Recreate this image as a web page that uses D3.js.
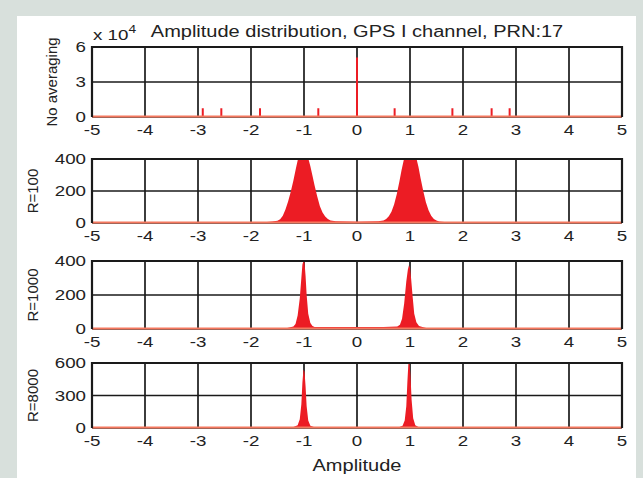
<!DOCTYPE html>
<html lang="en">
  <head>
    <meta charset="UTF-8" />
    <title>Amplitude distribution</title>
    <script src="https://d3js.org/d3.v7.min.js"></script>
    <style>
      body { margin: 0; background: #d8e0dc; }
      text { font-family: "Liberation Sans", Arial, sans-serif; fill: #222; }
    </style>
  </head>
  <body>
    <div id="chart"></div>
    <script>
      // data
      var xTicks = [-5, -4, -3, -2, -1, 0, 1, 2, 3, 4, 5];
      var panelLabels = ["No averaging", "R=100", "R=1000", "R=8000"];
      var yTickSets = [[0, 3, 6], [0, 200, 400], [0, 200, 400], [0, 300, 600]];

      // no averaging: single spikes (x 10^4)
      var spikeAmp = [-2.91, -2.56, -1.83, -0.73, 0, 0.71, 1.8, 2.54, 2.88];
      var spikeCount = [0.75, 0.75, 0.75, 0.75, 5.1, 0.75, 0.75, 0.75, 0.75];

      // R=100
      var r100Amp = [-1.9, -1.8, -1.7, -1.6, -1.5, -1.45, -1.4, -1.35, -1.3, -1.25, -1.2, -1.15, -1.11,
        -0.92, -0.88, -0.84, -0.8, -0.75, -0.7, -0.65, -0.6, -0.55, -0.5, -0.4, -0.2, 0, 0.2, 0.4, 0.5,
        0.55, 0.6, 0.65, 0.7, 0.75, 0.8, 0.84, 0.89, 1.12, 1.16, 1.2, 1.25, 1.3, 1.35, 1.4, 1.45, 1.5,
        1.55, 1.6, 1.7, 1.8, 1.9];
      var r100Count = [0, 3, 6, 9, 14, 24, 45, 85, 135, 195, 265, 345, 405,
        405, 355, 295, 235, 165, 105, 65, 40, 25, 16, 11, 9, 8, 9, 11, 16,
        25, 42, 70, 115, 180, 260, 330, 405, 405, 350, 280, 200, 130, 80, 45, 25, 15,
        10, 8, 5, 2, 0];

      // R=1000
      var r1000Amp = [-1.38, -1.3, -1.2, -1.16, -1.12, -1.08, -1.05, -1.03, -1.01, -0.99, -0.97, -0.95,
        -0.92, -0.88, -0.84, -0.8, -0.5, 0, 0.5, 0.76, 0.81, 0.85, 0.89, 0.93, 0.96, 0.98, 1.0, 1.02,
        1.05, 1.08, 1.12, 1.17, 1.25, 1.38];
      var r1000Count = [0, 8, 14, 30, 80, 180, 300, 380, 400, 390, 310, 200,
        90, 35, 18, 12, 12, 12, 12, 14, 25, 60, 150, 280, 350, 375, 360, 300,
        190, 90, 40, 18, 10, 0];

      // R=8000
      var r8000Amp = [-1.32, -1.2, -1.12, -1.08, -1.05, -1.03, -1.01, -0.99, -0.97, -0.95, -0.92, -0.88,
        -0.8, -0.4, 0, 0.4, 0.8, 0.86, 0.9, 0.93, 0.95, 0.97, 0.99, 1.01, 1.03, 1.06, 1.1, 1.16, 1.28];
      var r8000Count = [0, 10, 25, 80, 220, 420, 540, 520, 380, 200, 70, 20,
        8, 7, 7, 7, 9, 20, 70, 200, 420, 600, 610, 480, 260, 90, 25, 10, 0];

      var width = 643, height = 478;
      var left = 92, right = 622;
      var panelTops = [47, 159, 261, 363];
      var panelBottoms = [117, 223, 329, 428];
      var red = "#ec1c24", baseRed = "#f5785f";
      var stretch = 1.25; // the picture's text is wider than plain Arial

      var svg = d3.select("#chart").append("svg")
        .attr("width", width).attr("height", height);

      svg.append("rect").attr("width", width).attr("height", height).attr("fill", "#d8e0dc");
      svg.append("rect").attr("x", 17).attr("y", 16).attr("width", 619).attr("height", 462).attr("fill", "#fff");

      var x = d3.scaleLinear().domain([-5, 5]).range([left, right]);

      var series = [
        null,
        { amp: r100Amp, count: r100Count },
        { amp: r1000Amp, count: r1000Count },
        { amp: r8000Amp, count: r8000Count }
      ];

      function wideText(parent, px, py, anchor, size) {
        return parent.append("text")
          .attr("transform", "translate(" + px + "," + py + ") scale(" + stretch + ",1)")
          .attr("text-anchor", anchor)
          .style("font-size", size + "px");
      }

      panelLabels.forEach(function (label, i) {
        var ticks = yTickSets[i];
        var y = d3.scaleLinear().domain([0, ticks[2]]).range([panelBottoms[i], panelTops[i]]);
        var g = svg.append("g");

        g.append("clipPath").attr("id", "clip" + i).append("rect")
          .attr("x", left).attr("y", panelTops[i])
          .attr("width", right - left).attr("height", panelBottoms[i] - panelTops[i]);

        // grid
        g.selectAll(".vg").data(xTicks).enter().append("line")
          .attr("x1", function (d) { return x(d); }).attr("x2", function (d) { return x(d); })
          .attr("y1", panelTops[i]).attr("y2", panelBottoms[i])
          .attr("stroke", "#1a1a1a").attr("stroke-width", 1.7);
        g.selectAll(".hg").data(ticks).enter().append("line")
          .attr("x1", left).attr("x2", right)
          .attr("y1", function (d) { return y(d); }).attr("y2", function (d) { return y(d); })
          .attr("stroke", "#1a1a1a").attr("stroke-width", 1.7);

        var plot = g.append("g").attr("clip-path", "url(#clip" + i + ")");

        if (i === 0) {
          plot.selectAll(".spike").data(spikeAmp).enter().append("line")
            .attr("x1", function (d) { return x(d); }).attr("x2", function (d) { return x(d); })
            .attr("y1", y(0)).attr("y2", function (d, j) { return y(spikeCount[j]); })
            .attr("stroke", red).attr("stroke-width", 2);
        } else {
          var s = series[i];
          var pts = s.amp.map(function (a, j) { return [a, s.count[j]]; });
          var area = d3.area()
            .x(function (d) { return x(d[0]); })
            .y0(y(0))
            .y1(function (d) { return y(d[1]); });
          plot.append("path").datum(pts).attr("d", area).attr("fill", red);
        }

        // zero line
        g.append("line").attr("x1", left).attr("x2", right)
          .attr("y1", y(0) - 0.5).attr("y2", y(0) - 0.5)
          .attr("stroke", baseRed).attr("stroke-width", 2);

        // box
        g.append("path")
          .attr("d", "M" + left + "," + y(0) + "V" + panelTops[i] + "H" + right + "V" + y(0))
          .attr("fill", "none").attr("stroke", "#1a1a1a").attr("stroke-width", 2.2);

        // tick labels
        xTicks.forEach(function (t) {
          wideText(g, x(t), panelBottoms[i] + 18, "middle", 15).text(t);
        });
        ticks.forEach(function (t) {
          wideText(g, left - 6, y(t) + 5, "end", 15).text(t);
        });

        var cy = (panelTops[i] + panelBottoms[i]) / 2;
        var lx = i === 0 ? 52 : 33;
        g.append("text")
          .attr("transform", "translate(" + lx + "," + cy + ") rotate(-90)")
          .attr("text-anchor", "middle").attr("dy", "0.35em")
          .style("font-size", "15px")
          .text(label);
      });

      // exponent and titles
      var ex = wideText(svg, 93, 40, "start", 15);
      ex.append("tspan").text("x 10");
      ex.append("tspan").attr("dy", -7).style("font-size", "11px").text("4");

      wideText(svg, 357, 37, "middle", 16)
        .text("Amplitude distribution, GPS I channel, PRN:17");

      wideText(svg, 357, 471, "middle", 16).text("Amplitude");
    </script>
  </body>
</html>
